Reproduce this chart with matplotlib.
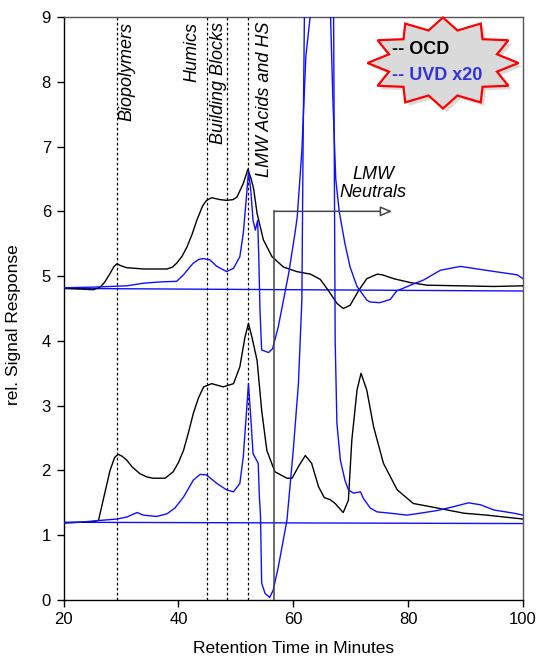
import numpy as np
import matplotlib
matplotlib.use("Agg")
import matplotlib.pyplot as plt
from matplotlib.patches import Polygon

plt.rcParams['font.family'] = ['Liberation Sans', 'DejaVu Sans']

# ---------------- data ----------------
upper_ocd_x = [20.0, 23.0, 25.2, 26.4, 27.2, 28.1, 28.8, 29.3, 30.0, 31.0, 33.9, 36.0, 38.0, 39.0, 39.7,
               40.6, 41.5, 42.4, 43.2, 44.2, 44.9, 45.8, 47.3, 48.4, 49.5, 50.2, 51.3, 52.1, 52.6, 53.1,
               53.7, 54.8, 56.3, 58.3, 60.6, 63.0, 64.7, 66.1, 67.6, 68.7, 69.9, 71.4, 72.8, 74.6, 75.5,
               77.5, 80.4, 83.3, 89.1, 94.9, 100.0]
upper_ocd_y = [4.81, 4.80, 4.79, 4.83, 4.91, 5.04, 5.15, 5.19, 5.16, 5.13, 5.11, 5.11, 5.11, 5.14, 5.20,
               5.30, 5.45, 5.65, 5.86, 6.08, 6.17, 6.21, 6.18, 6.17, 6.18, 6.22, 6.43, 6.65, 6.52, 6.35,
               5.97, 5.56, 5.30, 5.14, 5.07, 5.03, 4.95, 4.78, 4.58, 4.50, 4.55, 4.78, 4.96, 5.03, 5.02,
               4.96, 4.90, 4.86, 4.85, 4.84, 4.85]

upper_uvd_x = [20.0, 25.2, 31.0, 33.9, 36.8, 39.7, 40.9, 41.8, 42.6, 43.6, 44.4, 45.5, 46.7, 48.4, 49.6,
               50.7, 51.3, 51.8, 52.2, 52.6, 53.0, 53.4, 53.8, 54.0, 54.2, 54.5, 55.7, 56.4, 57.4, 58.3,
               59.2, 60.3, 60.7, 61.5, 62.2, 63.0, 64.5, 66.0, 66.5, 66.9, 67.4, 68.0, 69.0, 69.9, 71.1,
               72.0, 72.8, 73.4, 75.1, 76.9, 78.0, 80.4, 82.7, 85.6, 89.1, 94.3, 99.0, 100.0]
upper_uvd_y = [4.82, 4.83, 4.85, 4.89, 4.91, 4.92, 5.02, 5.12, 5.20, 5.26, 5.27, 5.25, 5.15, 5.07, 5.12,
               5.30, 5.66, 6.17, 6.61, 6.33, 5.86, 5.71, 5.86, 5.30, 4.50, 3.86, 3.82, 3.88, 4.22, 4.63,
               5.04, 5.66, 5.92, 6.94, 8.40, 9.05, 9.70, 9.60, 9.00, 7.72, 6.50, 6.00, 5.50, 5.14, 4.84,
               4.73, 4.63, 4.60, 4.59, 4.64, 4.77, 4.86, 4.94, 5.09, 5.15, 5.08, 5.02, 4.96]

lower_ocd_x = [20.0, 25.2, 26.1, 26.9, 28.1, 28.9, 29.5, 30.2, 31.0, 32.0, 33.3, 34.5, 35.6, 37.7, 39.1,
               40.0, 40.9, 41.8, 42.6, 43.5, 44.4, 45.8, 47.8, 49.6, 50.7, 51.6, 52.2, 52.8, 53.7, 54.5,
               55.4, 56.8, 58.9, 59.8, 60.9, 62.1, 63.2, 64.4, 65.4, 66.4, 67.3, 68.7, 69.6, 70.2, 71.1,
               71.8, 72.8, 74.0, 75.7, 78.1, 80.9, 83.9, 86.8, 89.7, 93.7, 100.0]
lower_ocd_y = [1.19, 1.21, 1.23, 1.54, 2.00, 2.20, 2.25, 2.22, 2.16, 2.05, 1.95, 1.90, 1.88, 1.88, 1.98,
               2.12, 2.31, 2.60, 2.88, 3.12, 3.29, 3.34, 3.29, 3.34, 3.60, 4.06, 4.27, 4.06, 3.70, 2.93,
               2.31, 1.98, 1.88, 1.88, 2.06, 2.23, 2.11, 1.75, 1.58, 1.55, 1.49, 1.35, 1.54, 2.47, 3.24,
               3.50, 3.24, 2.67, 2.11, 1.70, 1.49, 1.44, 1.39, 1.34, 1.31, 1.25]

lower_uvd_x = [20.0, 22.9, 25.2, 29.3, 31.0, 32.8, 33.9, 36.2, 38.0, 39.4, 40.9, 42.6, 43.8, 44.9, 46.7,
               48.4, 49.6, 50.7, 51.3, 51.8, 52.2, 52.6, 53.0, 53.9, 54.1, 54.3, 54.5, 55.1, 55.9, 56.5,
               57.4, 58.9, 60.0, 60.9, 61.5, 61.7, 62.0, 62.5, 66.5, 67.0, 67.3, 67.6, 68.2, 69.0, 69.6,
               70.5, 71.7, 72.2, 73.4, 74.6, 76.9, 79.8, 82.1, 85.0, 87.9, 90.5, 92.6, 94.9, 98.4, 100.0]
lower_uvd_y = [1.19, 1.20, 1.22, 1.25, 1.28, 1.35, 1.31, 1.29, 1.33, 1.42, 1.59, 1.85, 1.94, 1.93, 1.80,
               1.70, 1.67, 1.80, 2.21, 2.83, 3.34, 2.83, 2.26, 2.11, 1.60, 1.29, 0.26, 0.10, 0.04, 0.15,
               0.51, 1.23, 2.31, 3.34, 4.63, 6.90, 9.50, 12.0, 12.0, 9.50, 4.00, 2.73, 2.16, 1.85, 1.70,
               1.65, 1.67, 1.57, 1.42, 1.36, 1.34, 1.31, 1.34, 1.38, 1.44, 1.50, 1.47, 1.39, 1.34, 1.31]

baseline_upper = [4.81, 4.77]
baseline_lower = [1.20, 1.18]
baseline_x = [20, 100]

region_x = [29.3, 45.0, 48.4, 52.1]
region_labels = ["Biopolymers", "Humics", "Building Blocks", "LMW Acids and HS"]
region_label_x = [29.55, 40.9, 45.5, 53.5]

neutral_x = 56.7
neutral_arrow_end = 77.2
neutral_y = 6.0
legend_labels = ["-- OCD", "-- UVD x20"]

# ---------------- figure ----------------
W, H = 538, 659
fig = plt.figure(figsize=(W / 100, H / 100), dpi=100)
L, R, B, T = 63.5, 523, 600, 17
ax = fig.add_axes([L / W, (H - B) / H, (R - L) / W, (B - T) / H])

blue = '#1010ff'
ax.plot(baseline_x, baseline_upper, color=blue, lw=1.0, zorder=2)
ax.plot(baseline_x, baseline_lower, color=blue, lw=1.0, zorder=2)

for xv in region_x:
    ax.plot([xv, xv], [0, 9], color='black', lw=0.9, ls=(0, (2.2, 1.8)), zorder=1)

ax.plot(upper_ocd_x, upper_ocd_y, color='black', lw=1.0, zorder=3)
ax.plot(lower_ocd_x, lower_ocd_y, color='black', lw=1.0, zorder=3)
ax.plot(upper_uvd_x, upper_uvd_y, color=blue, lw=1.0, zorder=3)
ax.plot(lower_uvd_x, lower_uvd_y, color=blue, lw=1.0, zorder=3)

# LMW neutrals bracket
ax.plot([neutral_x, neutral_x], [0, neutral_y], color='#444444', lw=1.1, zorder=4)
ax.annotate('', xy=(neutral_arrow_end, neutral_y), xytext=(neutral_x - 0.05, neutral_y),
            arrowprops=dict(arrowstyle='-|>,head_length=0.7,head_width=0.3', color='#444444',
                            fc='white', lw=1.1, shrinkA=0, shrinkB=0), zorder=4)
ax.text(73.9, 6.43, "LMW\nNeutrals", ha='center', va='center', fontsize=13, style='italic',
        linespacing=1.15, zorder=5)

for lx, lab in zip(region_label_x, region_labels):
    ax.text(lx, 8.93, lab, rotation=90, ha='left', va='top', fontsize=13, style='italic', zorder=5)

ax.set_xlim(20, 100)
ax.set_ylim(0, 9)
ax.set_xticks([20, 40, 60, 80, 100])
ax.set_yticks(range(0, 10))
ax.tick_params(direction='out', length=5, width=1, labelsize=12, pad=4)
for s in ['left', 'bottom']:
    ax.spines[s].set_color('black')
    ax.spines[s].set_linewidth(1.0)
for s in ['top', 'right']:
    ax.spines[s].set_color('#555555')
    ax.spines[s].set_linewidth(1.0)

ax.set_xlabel("Retention Time in Minutes", fontsize=12.5)
ax.xaxis.set_label_coords(0.5, (B - 641) / (B - T))
ax.set_ylabel("rel. Signal Response", fontsize=12.5)
ax.yaxis.set_label_coords((21 - L) / (R - L), (B - 325) / (B - T))

# starburst legend
cx, cy = (443 - L) / (R - L), (B - 63) / (B - T)
rx, ry = 75.5 / (R - L), 45.5 / (B - T)
npts = 12
verts = []
for i in range(2 * npts):
    ang = np.pi / 2 + i * np.pi / npts
    r = 1.0 if i % 2 == 0 else 0.74
    verts.append((cx + rx * r * np.cos(ang), cy + ry * r * np.sin(ang)))
verts = np.array(verts)
shadow = Polygon(verts + np.array([3.5 / (R - L), -3.5 / (B - T)]), closed=True,
                 transform=ax.transAxes, clip_on=False, fc='#999999', ec='none', alpha=0.35, zorder=6)
star = Polygon(verts, closed=True, transform=ax.transAxes, clip_on=False,
               fc='#dadada', ec='#ff0000', lw=1.6, zorder=7)
ax.add_patch(shadow)
ax.add_patch(star)
tx = (392 - L) / (R - L)
ax.text(tx, (B - 50) / (B - T), legend_labels[0], transform=ax.transAxes, ha='left', va='center',
        fontsize=13, fontweight='bold', color='black', zorder=8)
ax.text(tx, (B - 76) / (B - T), legend_labels[1], transform=ax.transAxes, ha='left', va='center',
        fontsize=13, fontweight='bold', color='#3333dd', zorder=8)

fig.savefig("out.png", dpi=100)
